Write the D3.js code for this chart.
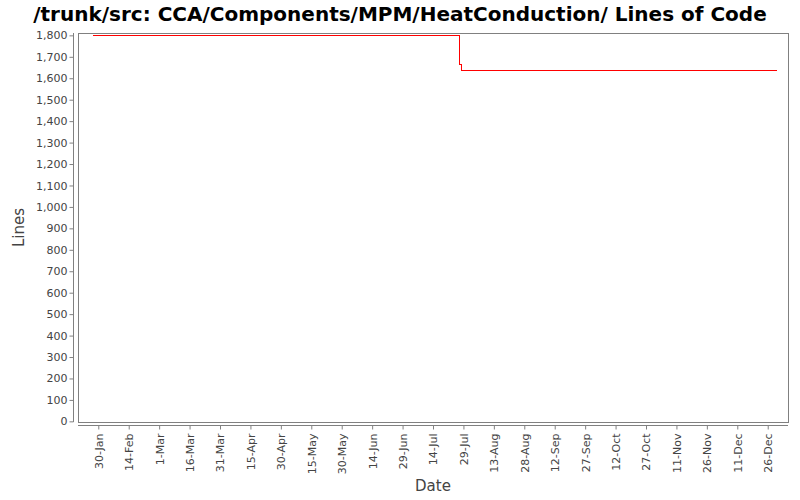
<!DOCTYPE html>
<html>
<head>
<meta charset="utf-8">
<script src="https://cdn.jsdelivr.net/npm/d3@7"></script>
<style>
  body { margin: 0; background: #fff; }
  text { font-family: "DejaVu Sans", sans-serif; }
</style>
</head>
<body>
<script>
const dates = ["2007-01-27", "2007-07-27", "2007-07-28", "2007-12-30"];
const lines = [1800, 1667, 1639, 1639];
const tickDates = ["2007-01-30", "2007-02-14", "2007-03-01", "2007-03-16", "2007-03-31", "2007-04-15",
  "2007-04-30", "2007-05-15", "2007-05-30", "2007-06-14", "2007-06-29", "2007-07-14", "2007-07-29",
  "2007-08-13", "2007-08-28", "2007-09-12", "2007-09-27", "2007-10-12", "2007-10-27", "2007-11-11",
  "2007-11-26", "2007-12-11", "2007-12-26"];
const yTicks = d3.range(0, 1801, 100);

const width = 800;
const height = 500;
const plot = { left: 78, right: 788, top: 33, bottom: 422 };

const parse = d3.utcParse("%Y-%m-%d");
const data = dates.map((d, i) => ({ date: parse(d), value: lines[i] }));

const x = d3.scaleUtc()
  .domain([parse("2007-01-20"), parse("2008-01-05")])
  .range([plot.left, plot.right]);

const y = d3.scaleLinear()
  .domain([-3, 1811])
  .range([plot.bottom, plot.top]);

const svg = d3.select(document.body).append("svg")
  .attr("width", width)
  .attr("height", height);

svg.append("text")
  .text("/trunk/src: CCA/Components/MPM/HeatConduction/ Lines of Code")
  .attr("x", 400)
  .attr("y", 21)
  .attr("style", "text-anchor: middle; font-size: 20px; font-weight: bold; fill: #000;");

// plot outline
svg.append("rect")
  .attr("x", plot.left + 0.5)
  .attr("y", plot.top + 0.5)
  .attr("width", plot.right - plot.left)
  .attr("height", plot.bottom - plot.top)
  .attr("style", "fill: #fff; stroke: #808080; stroke-width: 1px;");

// y axis
const yAxis = d3.axisLeft(y)
  .tickValues(yTicks)
  .tickFormat(d3.format(","))
  .tickSize(4)
  .tickPadding(2);

const yg = svg.append("g")
  .attr("transform", `translate(${plot.left - 4.5},0)`)
  .call(yAxis);
yg.select(".domain").attr("d", `M0,${plot.top}V${plot.bottom}`).attr("stroke", "#808080");
yg.selectAll(".tick line").attr("stroke", "#808080");
yg.selectAll(".tick text").attr("style", "font-size: 11px; fill: #444;");

// x axis
const xAxis = d3.axisBottom(x)
  .tickValues(tickDates.map(parse))
  .tickFormat(d3.utcFormat("%-d-%b"))
  .tickSize(4);

const xg = svg.append("g")
  .attr("transform", `translate(0,${plot.bottom + 3.5})`)
  .call(xAxis);
xg.select(".domain").attr("d", `M${plot.left},0H${plot.right}`).attr("stroke", "#808080");
xg.selectAll(".tick line").attr("stroke", "#808080");
xg.selectAll(".tick text")
  .attr("style", "font-size: 11px; fill: #444; text-anchor: end;")
  .attr("transform", "rotate(-90)")
  .attr("x", -8)
  .attr("y", 0)
  .attr("dy", "0.35em");

// axis titles
svg.append("text")
  .text("Date")
  .attr("x", 433)
  .attr("y", 491)
  .attr("style", "text-anchor: middle; font-size: 15px; fill: #444;");

svg.append("text")
  .text("Lines")
  .attr("transform", `translate(24,${(plot.top + plot.bottom) / 2}) rotate(-90)`)
  .attr("style", "text-anchor: middle; font-size: 15px; fill: #444;");

// line
const line = d3.line()
  .x((d) => Math.round(x(d.date)) + 0.5)
  .y((d) => Math.round(y(d.value)) + 0.5)
  .curve(d3.curveStepAfter);

svg.append("path")
  .datum(data)
  .attr("d", line)
  .attr("style", "fill: none; stroke: #ff0000; stroke-width: 1px; shape-rendering: crispEdges;");
</script>
</body>
</html>
